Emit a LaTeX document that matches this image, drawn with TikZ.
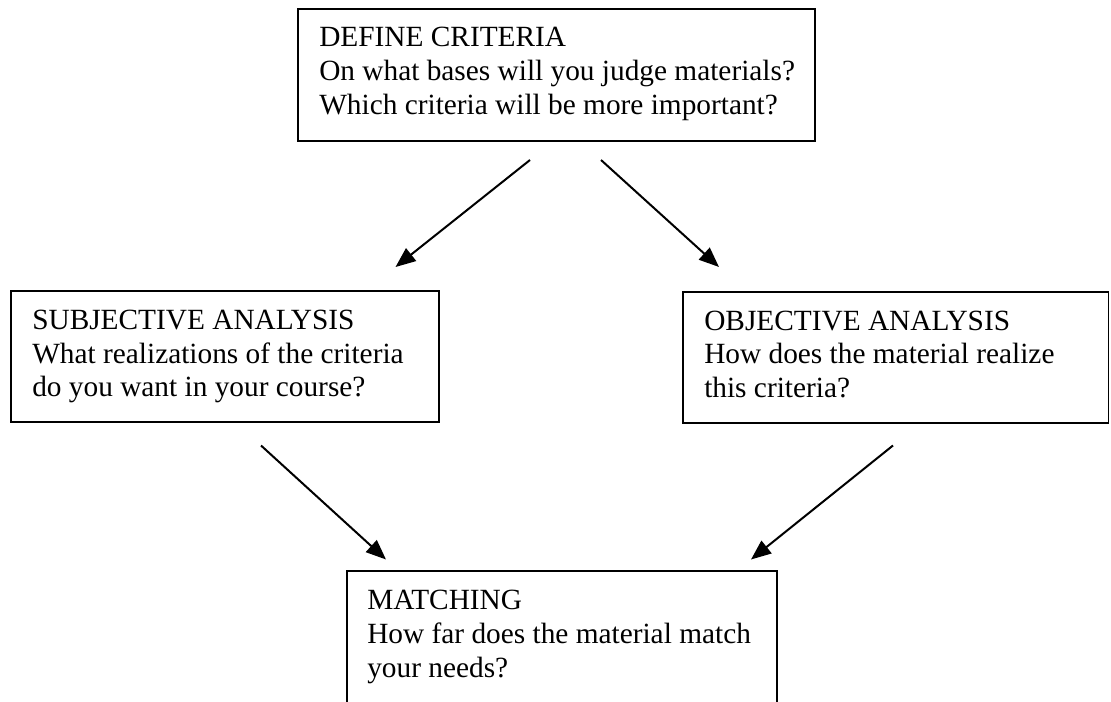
\documentclass[tikz,border=0pt]{standalone}
\usepackage{fontspec}
\setmainfont{Liberation Serif}
\usetikzlibrary{arrows.meta,fit}
\begin{document}
\begin{tikzpicture}[x=0.75pt,y=-0.75pt,
  boxnode/.style={draw=black,line width=1.4pt,inner sep=0pt},
  txt/.style={anchor=base west,align=left,inner sep=0pt,
    font=\fontsize{22}{25.3}\selectfont},
  arr/.style={line width=1.5pt,-{Triangle[length=15pt,width=12pt]}}]
\useasboundingbox (0,0) rectangle (1111,702);
\clip (0,0) rectangle (1111,702);
% boxes
\node[boxnode, fit={(298,9) (815,141)}] (def) {};
\node[boxnode, fit={(11,291) (439,422)}] (subj) {};
\node[boxnode, fit={(683,292) (1108.5,423)}] (obj) {};
\node[boxnode, fit={(347,571) (777,730)}] (match) {};
% texts (anchored at the baseline of their last line)
\node[txt] (deft) at (319,114.4) {DEFINE CRITERIA\\On what bases will you judge materials?\\Which criteria will be more important?};
\node[txt] (subjt) at (32,397) {SUBJECTIVE ANALYSIS\\What realizations of the criteria\\do you want in your course?};
\node[txt] (objt) at (704,397.5) {OBJECTIVE ANALYSIS\\How does the material realize\\this criteria?};
\node[txt] (matcht) at (367,677) {MATCHING\\How far does the material match\\your needs?};
% arrow end points
\coordinate (a1s) at (530,160); \coordinate (a1e) at (395.5,267);
\coordinate (a2s) at (601,160); \coordinate (a2e) at (719,267);
\coordinate (a3s) at (261,445.5); \coordinate (a3e) at (386,559.5);
\coordinate (a4s) at (893,445.5); \coordinate (a4e) at (751,559.5);
\draw[arr] (a1s) -- (a1e);
\draw[arr] (a2s) -- (a2e);
\draw[arr] (a3s) -- (a3e);
\draw[arr] (a4s) -- (a4e);
\end{tikzpicture}
\end{document}
